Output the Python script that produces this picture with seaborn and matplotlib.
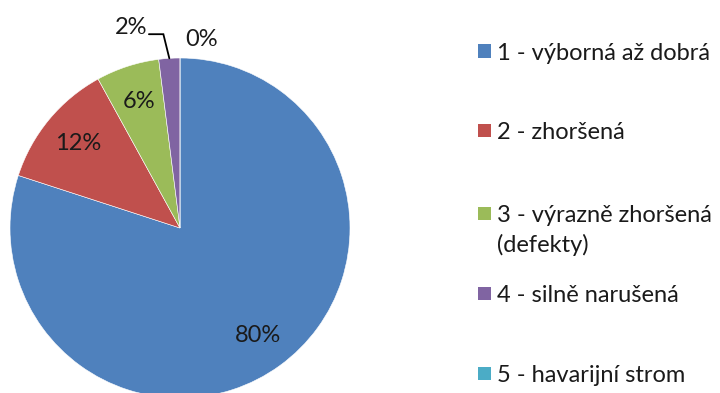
import numpy as np
import matplotlib
matplotlib.use("Agg")
import matplotlib.pyplot as plt
from matplotlib.patches import Rectangle
import seaborn as sns

# ---- data ----
categories = ["1 - výborná až dobrá", "2 - zhoršená",
              "3 - výrazně zhoršená\n(defekty)", "4 - silně narušená",
              "5 - havarijní strom"]
values = [80, 12, 6, 2, 0]
pct_labels = ["80%", "12%", "6%", "2%", "0%"]
colors = ["#4F81BD", "#C0504D", "#9BBB59", "#8064A2", "#4BACC6"]

sns.set_theme(style="white")
plt.rcParams['font.family'] = ['Lato', 'DejaVu Sans']
plt.rcParams['text.color'] = '#1a1a1a'

W, H = 720, 393
fig = plt.figure(figsize=(W / 100, H / 100), dpi=100)
ax = fig.add_axes([0, 0, 1, 1])
R = 170.0
cx, cy = 180.0, 228.0

wedges, _ = ax.pie(values, colors=colors, startangle=90, counterclock=False,
                   radius=1.0, center=(0, 0), frame=True,
                   wedgeprops=dict(edgecolor='white', linewidth=0.4))
ax.set_xlim(-cx / R, (W - cx) / R)
ax.set_ylim(-(H - cy) / R, cy / R)
ax.set_aspect('equal')
ax.axis('off')

fs = 17
for i, w in enumerate(wedges):
    mid = np.deg2rad((w.theta1 + w.theta2) / 2)
    if values[i] >= 5:
        r = 0.78
        ax.text(r * np.cos(mid), r * np.sin(mid), pct_labels[i],
                ha='center', va='center', fontsize=fs)
    elif values[i] > 0:
        ex, ey = np.cos(mid), np.sin(mid)
        kx, ky = ex - 0.035, 1.14
        sx = kx - 0.085
        ax.plot([ex, kx, sx], [ey, ky, ky], color='black', lw=1.3,
                solid_joinstyle='miter')
        ax.text(sx - 0.01, ky + 0.04, pct_labels[i], ha='right',
                va='center', fontsize=fs)
    else:
        ax.text(0.03, 1.11, pct_labels[i], ha='left',
                va='center', fontsize=fs)

# ---- legend ----
leg_y = [51, 131, 213, 293, 373]
line_gap = 30
for lab, col, y in zip(categories, colors, leg_y):
    fig.patches.append(Rectangle((478 / W, 1 - (y + 6.5) / H), 13 / W, 13 / H,
                                 transform=fig.transFigure, facecolor=col,
                                 edgecolor='none'))
    for k, part in enumerate(lab.split('\n')):
        fig.text(497 / W, 1 - (y + k * line_gap) / H, part, ha='left',
                 va='center_baseline', fontsize=fs)

fig.savefig("out.png", dpi=100)
